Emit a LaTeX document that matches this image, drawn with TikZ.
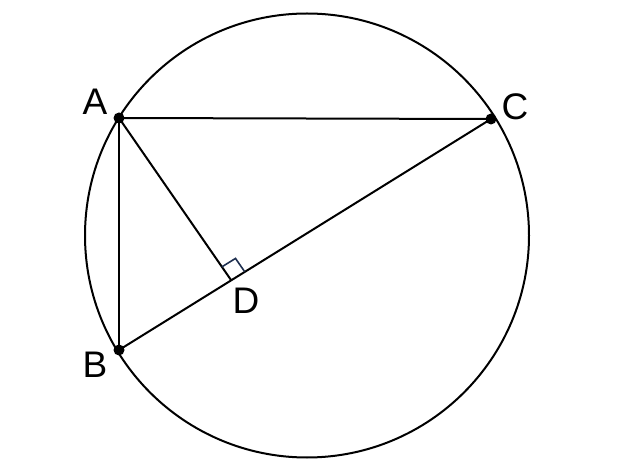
\documentclass[tikz,border=0pt]{standalone}
\usepackage{fontspec}
\setmainfont{Liberation Sans}
\usetikzlibrary{calc}
\definecolor{markblue}{HTML}{1F3050}
\begin{document}
\begin{tikzpicture}[x=1pt,y=-1pt,
  seg/.style={line width=2pt, black},
  dot/.style={circle, fill=black, inner sep=0pt, minimum size=11pt},
  lab/.style={font=\fontsize{37}{40}\selectfont, inner sep=0pt}]
\useasboundingbox (0,0) rectangle (624,470);
\coordinate (O) at (307,235.5);
\coordinate (A) at (119,118);
\coordinate (B) at (119,350);
\coordinate (C) at (491,119);
\coordinate (D) at (231,280);
\draw[seg] (O) circle[radius=222];
\draw[seg] (A) -- (C);
\draw[seg] (A) -- (B);
\draw[seg] (B) -- (C);
\draw[seg] (A) -- (D);
\coordinate (D1) at ($(D)!16pt!(A)$);
\coordinate (D2) at ($(D)!16pt!(C)$);
\draw[markblue, line width=1.6pt] (D1) -- ($(D1)+(D2)-(D)$) -- (D2);
\node[dot] (nA) at (A) {};
\node[dot] (nB) at (B) {};
\node[dot] (nC) at (C) {};
\node[lab] (lA) at (95,102) {A};
\node[lab] (lB) at (95,365) {B};
\node[lab] (lC) at (515,107) {C};
\node[lab] (lD) at (246,301) {D};
\end{tikzpicture}
\end{document}
